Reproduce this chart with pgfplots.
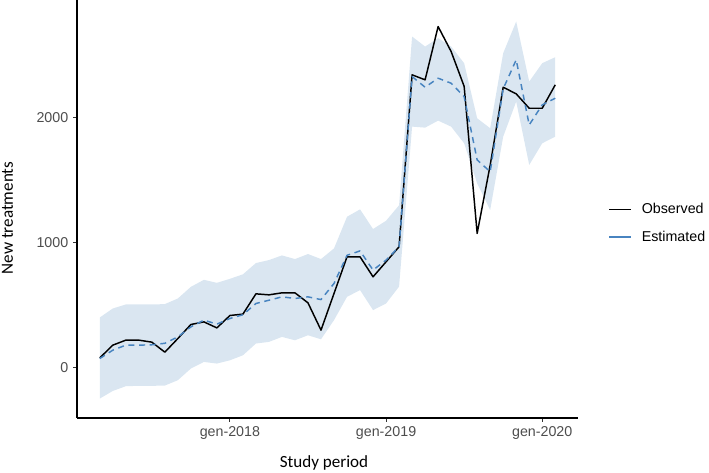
\documentclass[border=0pt]{standalone}
\usepackage{fontspec}
\setmainfont{Liberation Sans}
\newfontfamily\titlefont{Carlito}
\usepackage{pgfplots}
\usepackage{pgfplotstable}
\pgfplotsset{compat=1.18}
\usepgfplotslibrary{fillbetween}

\definecolor{bandblue}{RGB}{218,230,241}
\definecolor{estblue}{RGB}{72,132,192}
\definecolor{ticklab}{RGB}{77,77,77}

% month index: 0 = Jan 2017
\pgfplotstableread{
m  obs   est   lo    hi
2  80    75    -245  403
3  182   142   -184  475
4  222   182   -146  507
5  222   182   -143  507
6  206   185   -143  507
7  126   197   -141  510
8  235   248   -98   555
9  347   328   -5    648
10 368   382   48    704
11 320   350   35    680
12 419   395   61    712
13 430   425   101   748
14 592   515   195   838
15 584   541   208   862
16 600   568   248   899
17 600   555   221   870
18 520   568   261   910
19 302   546   229   870
20 595   675   382   955
21 888   900   568   1208
22 888   935   622   1267
23 728   782   462   1110
24 848   862   515   1176
25 968   968   650   1300
26 2342  2328  1928  2648
27 2302  2243  1920  2568
28 2728  2315  1976  2635
29 2528  2275  1928  2568
30 2250  2168  1795  2435
31 1075  1662  1475  1995
32 1620  1568  1262  1915
33 2243  2230  1848  2515
34 2190  2462  2128  2768
35 2075  1942  1622  2288
36 2075  2102  1795  2435
37 2262  2155  1848  2483
}\data

\begin{document}
\begin{tikzpicture}
\begin{axis}[
    at={(57.75pt,41.25pt)}, anchor=south west,
    width=375.75pt, height=313.5pt, scale only axis,
    xmin=0.25, xmax=38.75, ymin=-400, ymax=2940,
    axis lines=left,
    axis line style={-, line width=0.9pt, black},
    tick align=outside, major tick length=3pt,
    tick style={line width=0.7pt, black!80},
    xtick={12,24,36}, xticklabels={gen-2018,gen-2019,gen-2020},
    ytick={0,1000,2000},
    /pgf/number format/1000 sep={},
    /pgf/number format/assume math mode=true,
    ticklabel style={font=\fontsize{10.7}{12}\selectfont, text=ticklab},
    no markers,
    line join=round,
    legend image code/.code={\draw[#1,solid] (0pt,0pt) -- (16.5pt,0pt);},
    legend style={at={(1.06,0.466)}, anchor=west, draw=none, fill=none,
        inner sep=0pt, row sep=5.5pt,
        font=\fontsize{10.7}{12}\selectfont,
        nodes={inner sep=3pt},
        /tikz/every odd column/.append style={column sep=4.5pt}},
    legend cell align=left,
]
\addplot[name path=hi, draw=none, forget plot] table[x=m,y=hi]{\data};
\addplot[name path=lo, draw=none, forget plot] table[x=m,y=lo]{\data};
\addplot[bandblue, forget plot] fill between[of=hi and lo];
\addplot[black, line width=1.1pt] table[x=m,y=obs]{\data};
\addplot[estblue, line width=1.1pt, dash pattern=on 4.5pt off 3.5pt] table[x=m,y=est]{\data};
\legend{Observed,Estimated}
\end{axis}
\node[rotate=90, font=\titlefont\fontsize{12.8}{14}\selectfont] at (5.6pt,191.25pt) {New treatments};
\node[font=\titlefont\fontsize{12.8}{14}\selectfont] at (243pt,7.5pt) {Study period};
\pgfresetboundingbox
\useasboundingbox (0pt,0pt) rectangle (531.75pt,354.75pt);
\end{tikzpicture}
\end{document}
